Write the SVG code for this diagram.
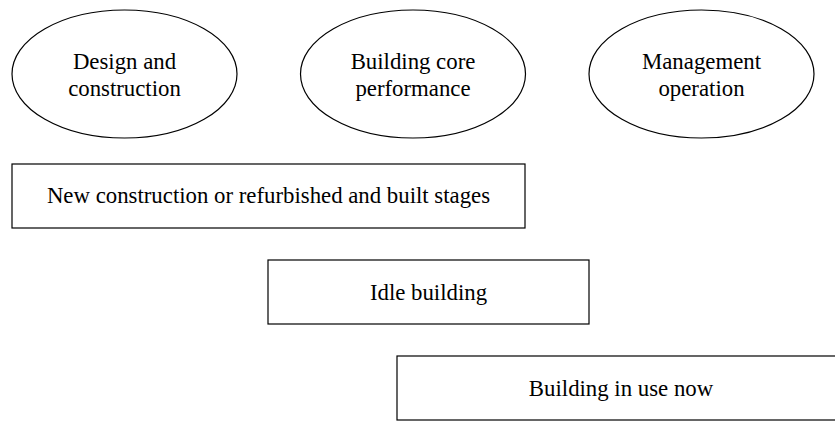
<svg xmlns="http://www.w3.org/2000/svg" width="835" height="422" viewBox="0 0 835 422">
<style>
.shape{fill:#fff;stroke:#000;stroke-width:1.2}
text{font-family:"Liberation Serif","Times New Roman",serif;font-size:22.8px;fill:#000;text-anchor:middle}
</style>
<rect width="835" height="422" fill="#fff"/>
<g id="design">
<ellipse class="shape" cx="124.5" cy="74" rx="112.5" ry="64"/>
<text x="124.5" y="68.5">Design and</text>
<text x="124.5" y="95.5">construction</text>
</g>
<g id="core">
<ellipse class="shape" cx="413" cy="74" rx="112.5" ry="64"/>
<text x="413" y="68.5">Building core</text>
<text x="413" y="95.5">performance</text>
</g>
<g id="management">
<ellipse class="shape" cx="701.5" cy="74" rx="112.5" ry="64"/>
<text x="701.5" y="68.5">Management</text>
<text x="701.5" y="95.5">operation</text>
</g>
<g id="new">
<rect class="shape" x="12" y="164" width="513" height="64"/>
<text x="268.5" y="203">New construction or refurbished and built stages</text>
</g>
<g id="idle">
<rect class="shape" x="268" y="260" width="321" height="64"/>
<text x="428.5" y="299.5">Idle building</text>
</g>
<g id="inuse">
<rect class="shape" x="397" y="356" width="445" height="64"/>
<text x="621" y="395.5">Building in use now</text>
</g>
<g id="connectors"/>
</svg>
